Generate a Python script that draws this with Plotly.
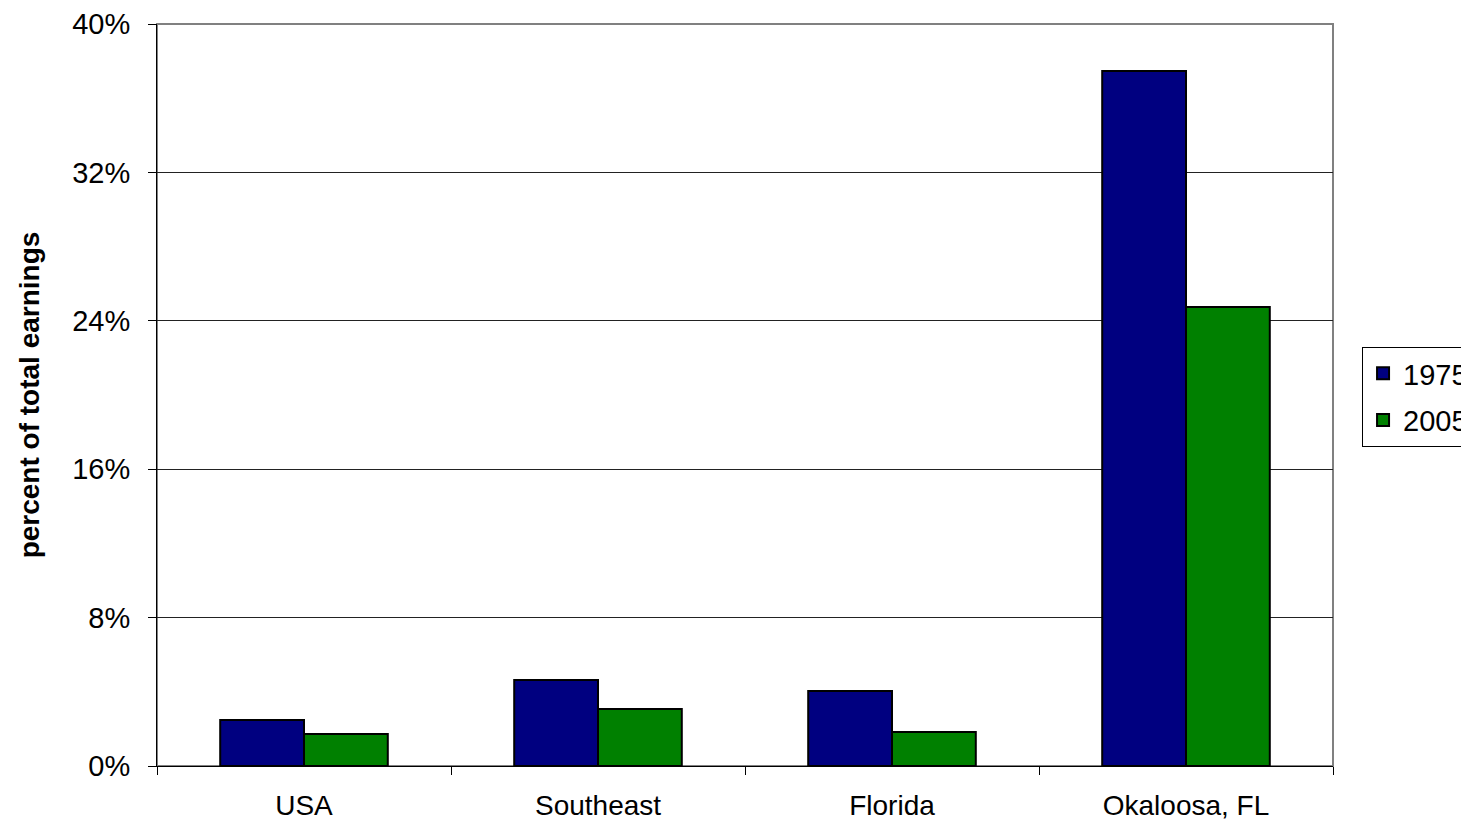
import plotly.graph_objects as go

categories = ["USA", "Southeast", "Florida", "Okaloosa, FL"]
years = ["1975", "2005"]
values_1975 = [2.48, 4.64, 4.04, 37.47]
values_2005 = [1.72, 3.07, 1.83, 24.74]
y_ticks = [0, 8, 16, 24, 32, 40]
colors = ["#000080", "#008000"]

fig = go.Figure()
for name, vals, col in zip(years, [values_1975, values_2005], colors):
    fig.add_trace(go.Bar(
        x=categories, y=vals, name=name, legendgroup=name,
        marker=dict(color=col, line=dict(color="black", width=2)),
    ))

font_family = "Liberation Sans, Arial, sans-serif"

fig.update_layout(
    width=1461, height=814,
    margin=dict(l=149, r=136, t=16, b=56, autoexpand=False),
    paper_bgcolor="white", plot_bgcolor="white",
    barmode="group", bargap=0.43, bargroupgap=0,
    font=dict(family=font_family, color="black", size=28),
    showlegend=True,
    legend=dict(
        x=1.0247, y=0.5647, xanchor="left", yanchor="top",
        bordercolor="black", borderwidth=1, bgcolor="white",
        font=dict(size=29, family=font_family),
        traceorder="grouped", tracegroupgap=6, itemwidth=30,
    ),
    xaxis=dict(
        type="category", tickson="boundaries", ticks="outside", ticklen=8,
        tickcolor="black", showline=True, linecolor="black", linewidth=1,
        showgrid=False, tickfont=dict(size=28), ticklabelstandoff=14,
    ),
    yaxis=dict(
        range=[0, 40], tickvals=y_ticks, ticktext=[f"{v}%" for v in y_ticks],
        ticks="outside", ticklen=8, tickcolor="black",
        showline=True, linecolor="black", linewidth=1,
        showgrid=True, gridcolor="#222222", gridwidth=1,
        zeroline=False, tickfont=dict(size=29), ticklabelstandoff=12,
        title=dict(text="<b>percent of total earnings</b>", font=dict(size=28), standoff=24),
    ),
    shapes=[dict(type="rect", xref="paper", yref="paper", x0=0, x1=1, y0=0, y1=1,
                 line=dict(color="#808080", width=2), layer="below")],
)

fig.write_html("out.html")
